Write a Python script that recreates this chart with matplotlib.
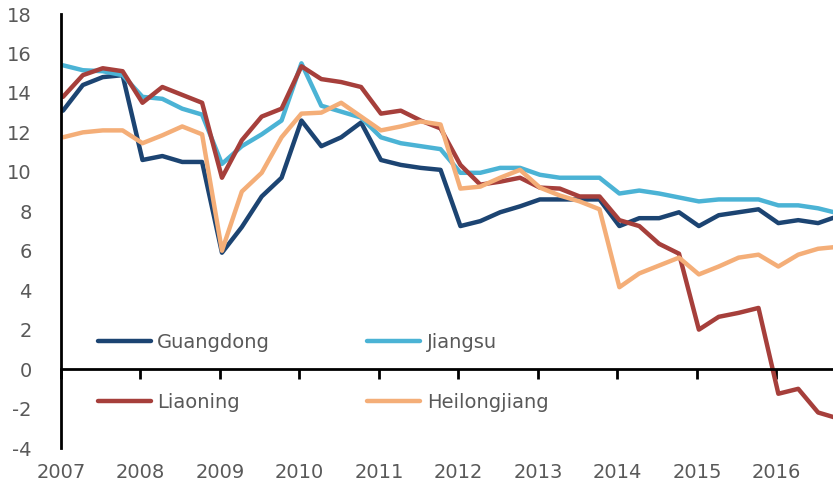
import matplotlib.pyplot as plt
import numpy as np

# Quarterly growth, 2007Q1 .. 2016Q4
YEARS = list(range(2007, 2017))

GUANGDONG = [13.1, 14.4, 14.8, 14.9, 10.6, 10.8, 10.5, 10.5,
             5.9, 7.2, 8.75, 9.7, 12.6, 11.3, 11.75, 12.5,
             10.6, 10.35, 10.2, 10.1, 7.25, 7.5, 7.95, 8.25,
             8.6, 8.6, 8.6, 8.6, 7.25, 7.65, 7.65, 7.95,
             7.25, 7.8, 7.95, 8.1, 7.4, 7.55, 7.4, 7.75]
JIANGSU = [15.4, 15.15, 15.1, 14.9, 13.8, 13.7, 13.2, 12.9,
           10.4, 11.3, 11.9, 12.6, 15.5, 13.35, 13.05, 12.75,
           11.75, 11.45, 11.3, 11.15, 9.95, 9.95, 10.2, 10.2,
           9.85, 9.7, 9.7, 9.7, 8.9, 9.05, 8.9, 8.7,
           8.5, 8.6, 8.6, 8.6, 8.3, 8.3, 8.15, 7.9]
LIAONING = [13.8, 14.9, 15.25, 15.1, 13.5, 14.3, 13.9, 13.5,
            9.7, 11.6, 12.8, 13.2, 15.35, 14.7, 14.55, 14.3,
            12.95, 13.1, 12.6, 12.2, 10.35, 9.35, 9.5, 9.7,
            9.2, 9.15, 8.75, 8.75, 7.55, 7.25, 6.35, 5.85,
            2.0, 2.65, 2.85, 3.1, -1.25, -1.0, -2.2, -2.5]
HEILONGJIANG = [11.75, 12.0, 12.1, 12.1, 11.45, 11.85, 12.3, 11.9,
                6.0, 9.0, 9.95, 11.75, 12.95, 13.0, 13.5, 12.8,
                12.1, 12.3, 12.55, 12.4, 9.15, 9.25, 9.7, 10.1,
                9.2, 8.8, 8.5, 8.1, 4.15, 4.85, 5.25, 5.65,
                4.8, 5.2, 5.65, 5.8, 5.2, 5.8, 6.1, 6.2]

SERIES = [("Guangdong", GUANGDONG, "#1c4472"),
          ("Jiangsu", JIANGSU, "#4bb3d5"),
          ("Liaoning", LIAONING, "#a63f3b"),
          ("Heilongjiang", HEILONGJIANG, "#f4ae78")]

TXT = "#595959"
plt.rcParams["font.family"] = ["DejaVu Sans"]
plt.rcParams["axes.unicode_minus"] = False

fig = plt.figure(figsize=(8.33, 4.94), dpi=100)
ax = fig.add_axes([61 / 833, 1 - 448 / 494, 1 - 61 / 833, 434 / 494])

x = np.arange(len(GUANGDONG))
handles = {}
for name, vals, col in SERIES:
    ln, = ax.plot(x, vals, color=col, lw=3.2, solid_joinstyle="round",
                  solid_capstyle="round", label=name)
    handles[name] = ln

ax.set_xlim(-0.1, 38.75)
ax.set_ylim(-4, 18)
ax.set_yticks(np.arange(-4, 19, 2))
ax.tick_params(axis="y", length=0, pad=21, labelsize=14, labelcolor=TXT)

for s in ["top", "right"]:
    ax.spines[s].set_visible(False)
ax.spines["left"].set_linewidth(2)
ax.spines["bottom"].set_linewidth(2)
ax.spines["bottom"].set_position(("data", 0))

tick_pos = [4 * i - 0.1 for i in range(len(YEARS))]
ax.set_xticks(tick_pos)
ax.set_xticklabels([])
ax.tick_params(axis="x", direction="out", length=7, width=2)
for p, yr in zip(tick_pos, YEARS):
    ax.text(p, -0.057, str(yr), transform=ax.get_xaxis_transform(),
            ha="center", va="center", fontsize=14, color=TXT)

order = ["Guangdong", "Liaoning", "Jiangsu", "Heilongjiang"]
leg = ax.legend([handles[n] for n in order], order, ncol=2, frameon=False,
                loc="upper left", bbox_to_anchor=(98 / 833, 1 - 333 / 494),
                bbox_transform=fig.transFigure, borderpad=0, borderaxespad=0,
                handlelength=2.7, handletextpad=0.35, columnspacing=5.0,
                labelspacing=2.1, fontsize=14)
for t in leg.get_texts():
    t.set_color(TXT)

fig.savefig("out.png", dpi=100)
